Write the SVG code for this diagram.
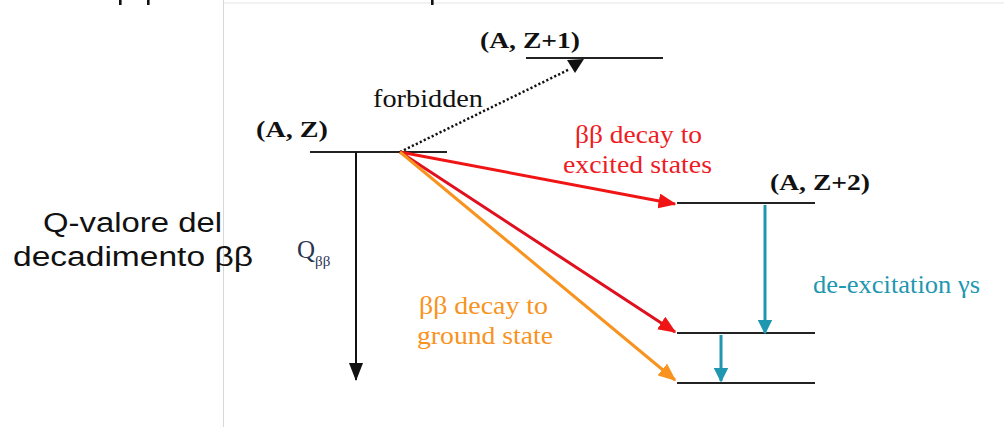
<svg xmlns="http://www.w3.org/2000/svg" width="1004" height="427" viewBox="0 0 1004 427">
<style>
.lvl{stroke:#222;stroke-width:1.8;fill:none}
.tb{font-family:"Liberation Serif","Times New Roman",serif;font-weight:bold;font-size:23px;fill:#111}
.tr{font-family:"Liberation Serif","Times New Roman",serif;font-size:25px}
.sans{font-family:"Liberation Sans",Arial,sans-serif;font-size:27px;fill:#111}
.frag{fill:#111}
</style>
<defs>
<marker id="hr" markerWidth="6" markerHeight="5" refX="5.5" refY="2.5" orient="auto" markerUnits="strokeWidth"><path d="M0,0 L6,2.5 L0,5 z" fill="#f01414"/></marker>
<marker id="ho" markerWidth="6" markerHeight="5" refX="5.5" refY="2.5" orient="auto" markerUnits="strokeWidth"><path d="M0,0 L6,2.5 L0,5 z" fill="#f7931e"/></marker>
<marker id="ht" markerWidth="5" markerHeight="5" refX="4.5" refY="2.5" orient="auto" markerUnits="strokeWidth"><path d="M0,0 L5,2.5 L0,5 z" fill="#1f97b1"/></marker>
<marker id="hk" markerWidth="9" markerHeight="7" refX="8.5" refY="3.5" orient="auto" markerUnits="strokeWidth"><path d="M0,0 L9,3.5 L0,7 z" fill="#111"/></marker>
</defs>
<rect width="1004" height="427" fill="#fff"/>
<line x1="223.5" y1="0" x2="223.5" y2="427" stroke="#d8d8d8" stroke-width="1"/>
<line x1="224" y1="3" x2="1004" y2="3" stroke="#f2f2f2" stroke-width="2"/>
<g id="top-crop-marks">
<rect class="frag" x="119" y="0" width="2.6" height="5"/>
<rect class="frag" x="147" y="0" width="2.6" height="5"/>
<rect class="frag" x="431" y="0" width="2.6" height="5"/>
</g>
<g id="side-label">
<text class="sans" x="43" y="232" textLength="179" lengthAdjust="spacingAndGlyphs">Q-valore del</text>
<text class="sans" x="13" y="266" textLength="240" lengthAdjust="spacingAndGlyphs">decadimento ββ</text>
</g>
<g id="level-AZ">
<line class="lvl" x1="310" y1="152" x2="447" y2="152"/>
<text class="tb" x="256" y="137" textLength="72" lengthAdjust="spacingAndGlyphs">(A, Z)</text>
</g>
<g id="level-AZ1">
<line class="lvl" x1="526" y1="58" x2="663" y2="58"/>
<text class="tb" x="480" y="48" textLength="100" lengthAdjust="spacingAndGlyphs">(A, Z+1)</text>
</g>
<g id="level-AZ2">
<line class="lvl" x1="677" y1="203" x2="815" y2="203"/>
<line class="lvl" x1="677" y1="333" x2="815" y2="333"/>
<line class="lvl" x1="677" y1="383" x2="815" y2="383"/>
<text class="tb" x="770" y="190" textLength="100" lengthAdjust="spacingAndGlyphs">(A, Z+2)</text>
</g>
<g id="connectors">
<line x1="400" y1="152" x2="570" y2="69" stroke="#111" stroke-width="2.5" stroke-dasharray="2.2,2.2"/>
<polygon points="567,60 584,59 575,73" fill="#111"/>
<line x1="356" y1="152" x2="356" y2="380" stroke="#111" stroke-width="2" marker-end="url(#hk)"/>
<line x1="400" y1="152" x2="675" y2="204" stroke="#f01414" stroke-width="3" marker-end="url(#hr)"/>
<line x1="400" y1="152" x2="675" y2="332" stroke="#e0101e" stroke-width="3" marker-end="url(#hr)"/>
<line x1="400" y1="152" x2="675" y2="380" stroke="#f7931e" stroke-width="3" marker-end="url(#ho)"/>
<line x1="765" y1="205" x2="765" y2="333" stroke="#1f97b1" stroke-width="3" marker-end="url(#ht)"/>
<line x1="721" y1="335" x2="721" y2="381" stroke="#1f97b1" stroke-width="3" marker-end="url(#ht)"/>
</g>
<g id="labels">
<text class="tr" x="373" y="107" fill="#111" font-size="24" textLength="110" lengthAdjust="spacingAndGlyphs">forbidden</text>
<text class="tr" x="297" y="258" fill="#2b3552" font-size="23">Q<tspan font-size="15" dy="8">ββ</tspan></text>
<text class="tr" x="575" y="143" fill="#ee1c24" textLength="127" lengthAdjust="spacingAndGlyphs">ββ decay to</text>
<text class="tr" x="563" y="173" fill="#ee1c24" textLength="149" lengthAdjust="spacingAndGlyphs">excited states</text>
<text class="tr" x="419" y="314" fill="#f7931e" textLength="129" lengthAdjust="spacingAndGlyphs">ββ decay to</text>
<text class="tr" x="417" y="344" fill="#f7931e" textLength="136" lengthAdjust="spacingAndGlyphs">ground state</text>
<text class="tr" x="813" y="293" fill="#1f97b1" font-size="24" textLength="167" lengthAdjust="spacingAndGlyphs">de-excitation γs</text>
</g>
</svg>
